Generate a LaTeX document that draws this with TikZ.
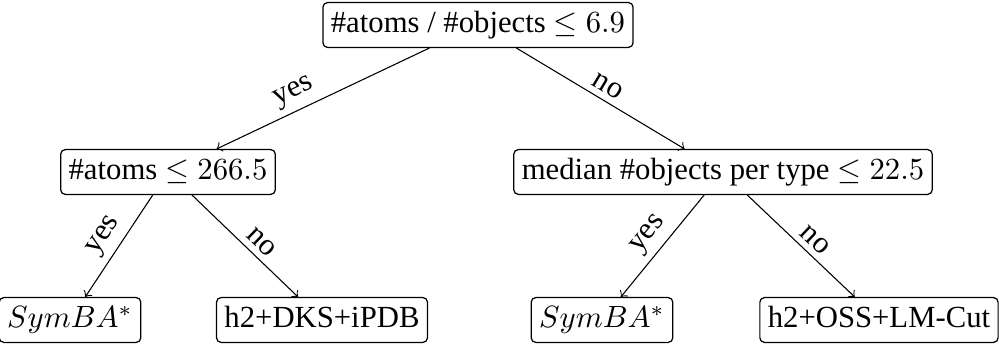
\documentclass[tikz,border=0pt]{standalone}
\usepackage{fontspec}
\setmainfont{Liberation Serif}
\begin{document}
\begin{tikzpicture}[x=0.3257pt,y=-0.3257pt,
  box/.style={draw,rounded corners=1.5pt,inner xsep=2.6pt,inner ysep=2.4pt,text height=7.4pt,text depth=2.4pt,line width=0.4pt,font=\fontsize{10}{12}\selectfont},
  edge/.style={->,line width=0.35pt},
  lab/.style={sloped,above,midway,font=\fontsize{10}{12}\selectfont,inner sep=2pt}]
\useasboundingbox (0,0) rectangle (1003,344);
\node[box] (root) at (478,25) {\#atoms / \#objects $\leq 6.9$};
\node[box] (l) at (168,172) {\#atoms $\leq 266.5$};
\node[box] (r) at (723,172) {median \#objects per type $\leq 22.5$};
\node[box] (ll) at (70,320) {$SymBA^*$};
\node[box] (lr) at (322,320) {h2+DKS+iPDB};
\node[box] (rl) at (602,320) {$SymBA^*$};
\node[box] (rr) at (879,320) {h2+OSS+LM-Cut};
\draw[edge] (root) -- node[lab,pos=0.6] {yes} (l);
\draw[edge] (root) -- node[lab] {no} (r);
\draw[edge] (l) -- node[lab] {yes} (ll);
\draw[edge] (l) -- node[lab,pos=0.56] {no} (lr);
\draw[edge] (r) -- node[lab] {yes} (rl);
\draw[edge] (r) -- node[lab,pos=0.54] {no} (rr);
\end{tikzpicture}
\end{document}
